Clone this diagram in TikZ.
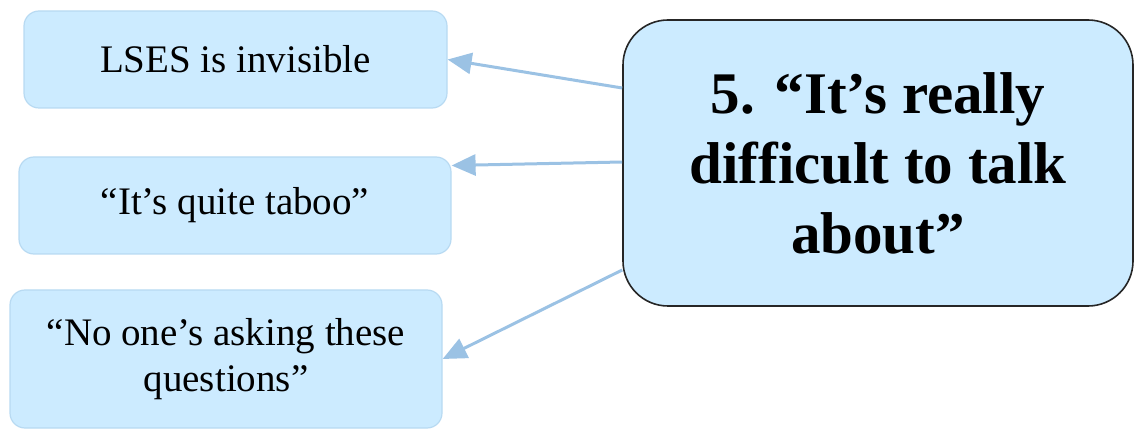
\documentclass[tikz,border=0pt]{standalone}
\usepackage{fontspec}
\setmainfont{Liberation Serif}
\usepackage{tikz}
\usetikzlibrary{arrows.meta, positioning, calc}
\usepackage{xcolor}
\definecolor{boxfill}{RGB}{204,235,255}
\definecolor{boxline}{RGB}{184,218,242}
\definecolor{arrowblue}{RGB}{155,194,228}

\begin{document}
\begin{tikzpicture}[
        x=1pt, y=-1pt,
        quote/.style={rectangle, draw=boxline, line width=1.2pt, fill=boxfill, rounded corners=15pt, align=center, inner sep=0pt, font=\fontsize{39}{46}\selectfont},
        theme/.style={rectangle, draw=black!85, line width=1.6pt, fill=boxfill, rounded corners=45pt, align=center, inner sep=0pt, font=\bfseries\fontsize{59}{70}\selectfont},
        link/.style={arrowblue, line width=3pt, -{Triangle[length=24pt, width=21pt]}}
    ]
        \useasboundingbox (0,0) rectangle (1135,430);

        % Thema rechts
        \node[theme, minimum width=510pt, minimum height=286pt] (theme) at (878, 163) {5. “It’s really\\difficult to talk\\about”};

        % Zitate links
        \node[quote, minimum width=423pt, minimum height=97pt] (lses) at (235.5, 59.5) {LSES is invisible};
        \node[quote, minimum width=432pt, minimum height=97pt] (taboo) at (235, 205.5) {“It’s quite taboo”};
        \node[quote, minimum width=432pt, minimum height=138pt] (asking) at (226, 359) {“No one’s asking these\\questions”};

        % Pfeile
        \draw[link] ([yshift=75pt]theme.west) -- (lses.east);
        \draw[link] ([yshift=1pt]theme.west) -- ([yshift=40pt]taboo.east);
        \draw[link] ([yshift=-107pt]theme.west) -- (asking.east);

    \end{tikzpicture}
\end{document}
